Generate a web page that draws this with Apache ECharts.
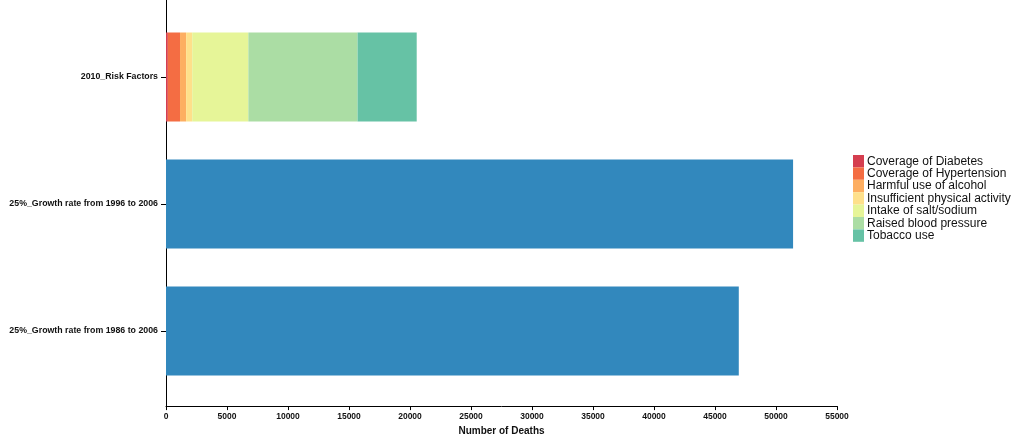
<!DOCTYPE html>
<html>
<head>
<meta charset="utf-8">
<script src="https://cdn.jsdelivr.net/npm/echarts@6/dist/echarts.min.js"></script>
<style>
html,body{margin:0;padding:0;background:#fff;}
#chart{width:1024px;height:441px;}
</style>
</head>
<body>
<div id="chart"></div>
<script>
// ---- data ----
const categories = [
  '25%_Growth rate from 1986 to 2006',
  '25%_Growth rate from 1996 to 2006',
  '2010_Risk Factors'
];
const riskFactors = [
  'Coverage of Diabetes',
  'Coverage of Hypertension',
  'Harmful use of alcohol',
  'Insufficient physical activity',
  'Intake of salt/sodium',
  'Raised blood pressure',
  'Tobacco use'
];
const riskValues = [150, 1000, 500, 500, 4600, 8950, 4850];
const growthValues = [46950, 51400];
const xMin = 0, xMax = 55000, xInterval = 5000;

// ---- style ----
const palette = ['#d53e4f','#f46d43','#fdae61','#fee08b','#e6f598','#abdda4','#66c2a5'];
const blue = '#3288bd';
const FONT = '"Liberation Sans", Arial, sans-serif';

const chart = echarts.init(document.getElementById('chart'), null, {renderer:'canvas'});

const series = riskFactors.map((name, i) => ({
  name: name,
  type: 'bar',
  xAxisIndex: 1,
  yAxisIndex: 1,
  stack: 'total',
  barWidth: 89,
  itemStyle: {color: palette[i]},
  emphasis: {disabled: true},
  data: categories.map((c, ci) => ci === 2 ? riskValues[i] : '-')
}));
series.unshift({
  name: 'Number of Deaths',
  type: 'bar',
  xAxisIndex: 1,
  yAxisIndex: 1,
  stack: 'total',
  barWidth: 89,
  itemStyle: {color: blue},
  emphasis: {disabled: true},
  data: [growthValues[0], growthValues[1], '-']
});

const option = {
  animation: false,
  textStyle: {fontFamily: FONT},
  grid: [
    {left: 166, right: 187, top: 0, height: 408, containLabel: false},
    {left: 166, right: 187, top: 13.5, height: 381, containLabel: false}
  ],
  legend: {
    data: riskFactors,
    orient: 'vertical',
    left: 853,
    top: 155,
    padding: 0,
    itemWidth: 11,
    itemHeight: 12.4,
    itemGap: 0,
    icon: 'rect',
    selectedMode: false,
    textStyle: {fontFamily: FONT, fontSize: 12, color: '#111', padding: [0,0,0,-2], lineHeight: 12.4}
  },
  xAxis: [
    {
      gridIndex: 0, type: 'value', min: xMin, max: xMax, interval: xInterval,
      axisLine: {show: true, onZero: false, lineStyle: {color: '#000', width: 1}},
      axisTick: {show: true, length: 4, lineStyle: {color: '#000'}},
      axisLabel: {fontFamily: FONT, fontSize: 8.5, fontWeight: 'bold', color: '#111', margin: 6,
        formatter: v => String(v)},
      splitLine: {show: false},
      name: 'Number of Deaths',
      nameLocation: 'middle',
      nameGap: 19,
      nameTextStyle: {fontFamily: FONT, fontSize: 10, fontWeight: 'bold', color: '#111'}
    },
    {
      gridIndex: 1, type: 'value', min: xMin, max: xMax, interval: xInterval,
      show: false
    }
  ],
  yAxis: [
    {
      gridIndex: 0, type: 'value', min: 0, max: 1,
      axisLine: {show: true, onZero: false, lineStyle: {color: '#000', width: 1}},
      axisTick: {show: false}, axisLabel: {show: false}, splitLine: {show: false}
    },
    {
      gridIndex: 1, type: 'category', data: categories,
      axisLine: {show: false},
      axisTick: {show: true, alignWithLabel: true, length: 5, lineStyle: {color: '#000'}},
      axisLabel: {fontFamily: FONT, fontSize: 8.8, fontWeight: 'bold', color: '#111', margin: 8},
      splitLine: {show: false}
    }
  ],
  series: series
};
chart.setOption(option);
</script>
</body>
</html>
